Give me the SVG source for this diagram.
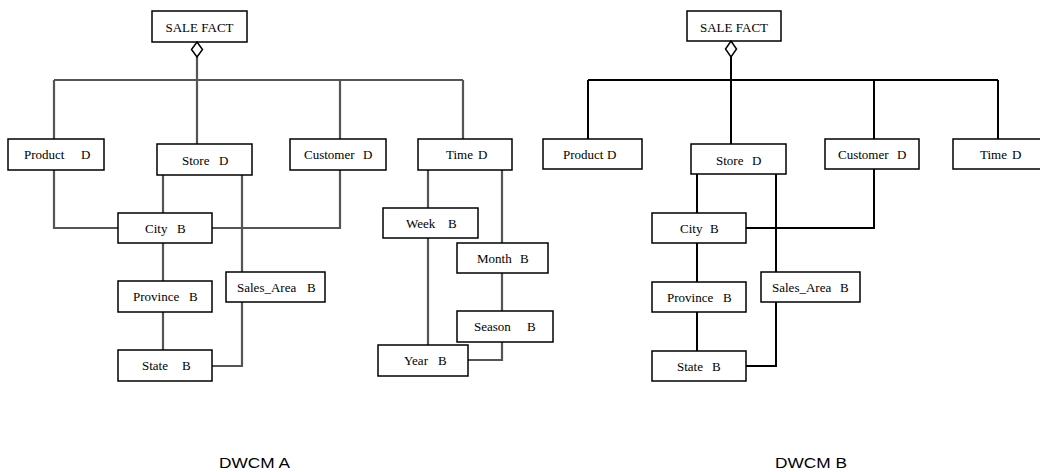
<svg xmlns="http://www.w3.org/2000/svg" width="1040" height="472" viewBox="0 0 1040 472">
<style>
.box{fill:#fff;stroke:#000;stroke-width:1.5}
.lt{font-family:"Liberation Serif","Times New Roman",serif;font-size:13px;fill:#000}
.ca{font-family:"Liberation Sans",Arial,sans-serif;font-size:15px;fill:#000}
.cA{fill:none;stroke:#555;stroke-width:2.2}
.cB{fill:none;stroke:#000;stroke-width:2}
.dia{fill:#fff;stroke:#000;stroke-width:1.5}
</style>
<rect width="1040" height="472" fill="#fff"/>
<g id="connectors-A" class="cA">
<path d="M197 57V144M54 80H463M54 80V139M340 80V139M463 80V139"/>
<path d="M54 170V228H118M340 170V228H212"/>
<path d="M163 175V213M242 175V272M163 243V281M163 312V350M242 302V366H212"/>
<path d="M428 170V208M502 170V243M428 238V345M502 273V311M502 342V360H468"/>
</g>
<g id="connectors-B" class="cB">
<path d="M731 57V144M588 80H998M588 80V139M874 80V139M998 80V139"/>
<path d="M697 174V213M776 174V272M746 228H874V169"/>
<path d="M697 243V282M697 312V351M776 302V366H746"/>
</g>
<g id="A-salefact"><rect class="box" x="152" y="11" width="95" height="31"/><text class="lt" x="199.5" y="32" text-anchor="middle">SALE FACT</text><path class="dia" d="M197 42L202.5 49.5L197 57L191.5 49.5Z"/></g>
<g id="A-product"><rect class="box" x="8" y="139" width="96" height="31"/><text class="lt" y="159"><tspan x="24">Product</tspan><tspan x="81">D</tspan></text></g>
<g id="A-store"><rect class="box" x="157" y="144" width="95" height="31"/><text class="lt" y="165"><tspan x="182">Store</tspan><tspan x="219">D</tspan></text></g>
<g id="A-customer"><rect class="box" x="290" y="139" width="96" height="31"/><text class="lt" y="159"><tspan x="304">Customer</tspan><tspan x="363">D</tspan></text></g>
<g id="A-time"><rect class="box" x="418" y="139" width="94" height="31"/><text class="lt" y="159"><tspan x="446">Time</tspan><tspan x="478">D</tspan></text></g>
<g id="A-city"><rect class="box" x="118" y="213" width="94" height="30"/><text class="lt" y="232.5"><tspan x="145">City</tspan><tspan x="177">B</tspan></text></g>
<g id="A-province"><rect class="box" x="118" y="281" width="94" height="31"/><text class="lt" y="301"><tspan x="133">Province</tspan><tspan x="189">B</tspan></text></g>
<g id="A-salesarea"><rect class="box" x="226" y="272" width="99" height="30"/><text class="lt" y="291.5"><tspan x="237">Sales_Area</tspan><tspan x="307">B</tspan></text></g>
<g id="A-state"><rect class="box" x="118" y="350" width="94" height="31"/><text class="lt" y="370"><tspan x="142">State</tspan><tspan x="182">B</tspan></text></g>
<g id="A-week"><rect class="box" x="383" y="208" width="95" height="30"/><text class="lt" y="228"><tspan x="406">Week</tspan><tspan x="448">B</tspan></text></g>
<g id="A-month"><rect class="box" x="457" y="243" width="91" height="30"/><text class="lt" y="263"><tspan x="477">Month</tspan><tspan x="520">B</tspan></text></g>
<g id="A-season"><rect class="box" x="457" y="311" width="96" height="31"/><text class="lt" y="331"><tspan x="474">Season</tspan><tspan x="527">B</tspan></text></g>
<g id="A-year"><rect class="box" x="378" y="345" width="90" height="31"/><text class="lt" y="365"><tspan x="404">Year</tspan><tspan x="438">B</tspan></text></g>
<g id="B-salefact"><rect class="box" x="687" y="11" width="94" height="30"/><text class="lt" x="734" y="31.5" text-anchor="middle">SALE FACT</text><path class="dia" d="M731 41L736.5 49L731 57L725.5 49Z"/></g>
<g id="B-product"><rect class="box" x="543" y="139" width="99" height="30"/><text class="lt" y="159"><tspan x="563">Product</tspan><tspan x="607">D</tspan></text></g>
<g id="B-store"><rect class="box" x="691" y="144" width="95" height="30"/><text class="lt" y="164.5"><tspan x="716">Store</tspan><tspan x="752">D</tspan></text></g>
<g id="B-customer"><rect class="box" x="825" y="139" width="94" height="30"/><text class="lt" y="159"><tspan x="838">Customer</tspan><tspan x="897">D</tspan></text></g>
<g id="B-time"><rect class="box" x="953" y="139" width="94" height="30"/><text class="lt" y="159"><tspan x="980">Time</tspan><tspan x="1012">D</tspan></text></g>
<g id="B-city"><rect class="box" x="652" y="213" width="94" height="30"/><text class="lt" y="232.5"><tspan x="680">City</tspan><tspan x="710">B</tspan></text></g>
<g id="B-province"><rect class="box" x="652" y="282" width="94" height="30"/><text class="lt" y="301.5"><tspan x="667">Province</tspan><tspan x="723">B</tspan></text></g>
<g id="B-salesarea"><rect class="box" x="761" y="272" width="99" height="30"/><text class="lt" y="291.5"><tspan x="772">Sales_Area</tspan><tspan x="840">B</tspan></text></g>
<g id="B-state"><rect class="box" x="652" y="351" width="94" height="30"/><text class="lt" y="370.5"><tspan x="677">State</tspan><tspan x="712">B</tspan></text></g>
<text class="ca" x="219" y="468" textLength="71" lengthAdjust="spacingAndGlyphs">DWCM A</text>
<text class="ca" x="775" y="468" textLength="72" lengthAdjust="spacingAndGlyphs">DWCM B</text>
</svg>
